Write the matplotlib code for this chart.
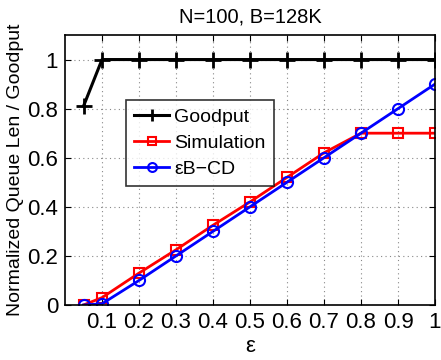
import matplotlib
matplotlib.use("Agg")
import matplotlib.pyplot as plt

eps = [0.05, 0.1, 0.2, 0.3, 0.4, 0.5, 0.6, 0.7, 0.8, 0.9, 1.0]
goodput = [0.81, 1.0, 1.0, 1.0, 1.0, 1.0, 1.0, 1.0, 1.0, 1.0, 1.0]
simulation = [0.0, 0.03, 0.13, 0.225, 0.325, 0.42, 0.52, 0.62, 0.70, 0.70, 0.70]
ebcd = [0.0, 0.005, 0.10, 0.20, 0.30, 0.40, 0.50, 0.60, 0.70, 0.80, 0.90]
xticks = [0.1, 0.2, 0.3, 0.4, 0.5, 0.6, 0.7, 0.8, 0.9, 1.0]
xticklabels = ["0.1", "0.2", "0.3", "0.4", "0.5", "0.6", "0.7", "0.8", "0.9", "1"]
yticks = [0, 0.2, 0.4, 0.6, 0.8, 1.0]
yticklabels = ["0", "0.2", "0.4", "0.6", "0.8", "1"]

plt.rcParams["font.family"] = ["Liberation Sans", "DejaVu Sans"]

fig = plt.figure(figsize=(4.41, 3.6), dpi=100)
ax = fig.add_axes([65 / 441, 55 / 360, 370 / 441, 270 / 360])

ax.plot(eps, goodput, color="black", lw=2.2, marker="+", ms=11, mew=2, label="Goodput")
ax.plot(eps, simulation, color="red", lw=2, marker="s", ms=7, mfc="none", mew=1.5, label="Simulation")
ax.plot(eps, ebcd, color="blue", lw=2, marker="o", ms=8, mfc="none", mew=1.5, label="εB−CD")

ax.set_xlim(0, 1)
ax.set_ylim(0, 1.1)
ax.set_xticks(xticks)
ax.set_xticklabels(xticklabels)
ax.set_yticks(yticks)
ax.set_yticklabels(yticklabels)
ax.tick_params(direction="in", labelsize=16, length=4, top=True, right=True, pad=5)
ax.grid(True, color="#888888", linestyle=(0, (1, 3)), lw=0.8)
for s in ax.spines.values():
    s.set_linewidth(1.2)

ax.set_xlabel("ε", fontsize=16, labelpad=2)
ax.set_ylabel("Normalized Queue Len / Goodput", fontsize=14, labelpad=2)
ax.set_title("N=100, B=128K", fontsize=14.5, pad=9)

leg = ax.legend(loc="upper left", bbox_to_anchor=(0.165, 0.76), fontsize=14,
                frameon=True, fancybox=False, edgecolor="black",
                handlelength=1.8, borderpad=0.42, labelspacing=0.45, handletextpad=0.25,
                borderaxespad=0, markerscale=0.8)
leg.get_frame().set_linewidth(1.2)

fig.savefig("out.png", dpi=100)
